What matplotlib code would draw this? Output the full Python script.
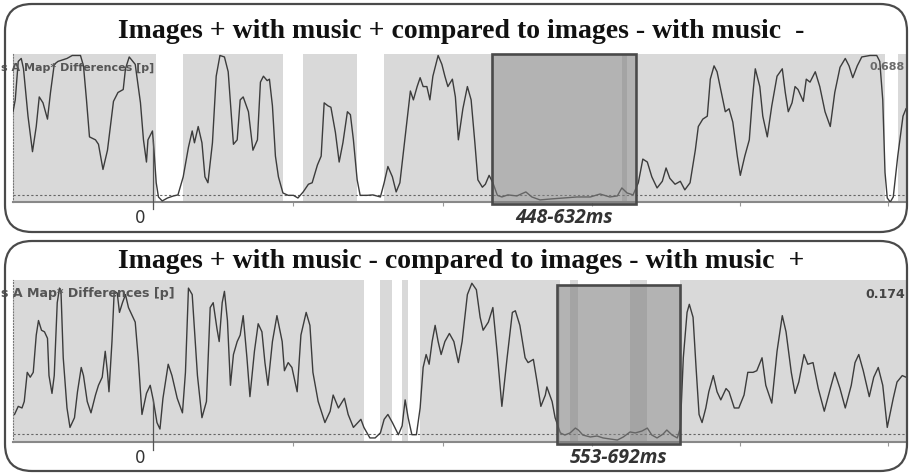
import numpy as np
import matplotlib.pyplot as plt
from matplotlib.patches import FancyBboxPatch, Rectangle

# Panel titles and annotation text
titles = ["Images + with music + compared to images - with music  -",
          "Images + with music - compared to images - with music  +"]
window_labels = ["448-632ms", "553-692ms"]
corner_values = ["0.688", "0.174"]
threshold = 0.05

# Time (ms) and p-value traces
top_ms = [-187, -184, -180, -176, -173, -167, -161, -156, -152, -147, -141, -137, -132, -127, -115,
          -108, -97, -93, -89, -85, -77, -73, -67, -61, -53, -47, -40, -37, -32, -24,
          -17, -13, -9, -7, -1, 1, 4, 7, 12, 19, 27, 33, 40, 47, 52,
          55, 60, 65, 69, 73, 79, 84, 89, 95, 100,
          107, 112, 116, 120, 127, 133, 139, 143, 147, 152, 155, 159, 163, 167, 173,
          180, 187, 193, 200, 207, 212, 219, 224, 228, 233, 237, 243, 248, 253, 259,
          263, 267, 272, 276, 285, 293, 303, 308, 313, 319, 324, 329, 336, 343, 347,
          352, 356, 360, 365, 369, 373, 380, 385, 389, 393, 399, 403,
          407, 413, 419, 424, 429, 433, 439, 443, 448, 453, 459, 465, 473, 485, 497,
          505, 516, 529, 547, 565, 583, 596, 609, 619, 625, 632, 640, 647, 653, 659,
          665, 672, 679, 684, 689, 696, 703,
          709, 716, 723, 727, 733, 739, 743, 748, 752, 759, 763, 768, 773, 779, 783,
          789, 795, 799, 803, 809, 813, 819, 825, 832, 839, 843, 847, 852, 856, 860,
          867, 871, 876, 883, 889, 896, 903, 909, 916, 923, 928, 933, 939, 945, 956,
          965, 969, 973, 976, 979, 983, 987, 993, 1000, 1004]
top_p = [0.61, 0.69, 0.95, 0.97, 0.90, 0.58, 0.34, 0.51, 0.71, 0.67, 0.56, 0.74, 0.93, 0.95, 0.97,
         0.99, 0.99, 0.92, 0.69, 0.44, 0.42, 0.39, 0.22, 0.35, 0.68, 0.74, 0.76, 0.90, 0.98, 0.93,
         0.67, 0.42, 0.27, 0.42, 0.48, 0.35, 0.13, 0.034, 0.007, 0.027, 0.041, 0.048, 0.17, 0.37, 0.48,
         0.40, 0.51, 0.40, 0.17, 0.13, 0.40, 0.85, 0.99, 0.98, 0.88,
         0.39, 0.42, 0.69, 0.71, 0.61, 0.35, 0.42, 0.81, 0.85, 0.82, 0.83, 0.65, 0.31, 0.17, 0.061,
         0.045, 0.045, 0.027, 0.068, 0.12, 0.13, 0.25, 0.31, 0.67, 0.65, 0.64, 0.47, 0.27, 0.40, 0.61,
         0.59, 0.42, 0.15, 0.045, 0.045, 0.048, 0.034, 0.13, 0.24, 0.17, 0.068, 0.13, 0.44, 0.75, 0.69,
         0.78, 0.84, 0.78, 0.78, 0.69, 0.85, 0.99, 0.93, 0.85, 0.78, 0.83, 0.71,
         0.42, 0.63, 0.78, 0.69, 0.40, 0.15, 0.10, 0.12, 0.18, 0.13, 0.045, 0.034, 0.048, 0.041, 0.068,
         0.034, 0.014, 0.020, 0.027, 0.034, 0.034, 0.054, 0.034, 0.041, 0.095, 0.061, 0.048, 0.13, 0.29, 0.27,
         0.17, 0.095, 0.14, 0.23, 0.16, 0.12, 0.14,
         0.082, 0.13, 0.35, 0.51, 0.56, 0.58, 0.83, 0.92, 0.88, 0.71, 0.61, 0.63, 0.54, 0.31, 0.18,
         0.31, 0.42, 0.69, 0.90, 0.78, 0.58, 0.44, 0.65, 0.85, 0.90, 0.74, 0.61, 0.67, 0.78, 0.76,
         0.68, 0.83, 0.81, 0.88, 0.78, 0.61, 0.51, 0.74, 0.91, 0.97, 0.92, 0.84, 0.92, 0.98, 0.99,
         0.99, 0.95, 0.69, 0.20, 0.027, 0.0, 0.034, 0.31, 0.58, 0.63]

bottom_ms = [-185, -180, -175, -172, -168, -164, -160, -156, -153, -149, -145, -141, -139, -135, -132,
             -128, -125, -123, -120, -115, -111, -105, -101, -96, -93, -88, -83, -77, -73, -68,
             -64, -61, -59, -55, -52, -48, -45, -41, -37, -33, -28, -24, -20, -15, -9,
             -4, 0, 5, 9, 13, 20, 25, 32, 39, 43, 47, 52, 59, 65, 71,
             76, 80, 85, 88, 92, 95, 99, 103,
             107, 112, 116, 120, 125, 129, 135, 140, 145, 149, 153, 159, 165, 172, 175,
             180, 185, 192, 197, 204, 209, 213, 220, 229, 236, 240, 247, 255, 260, 267,
             273, 277, 281, 289, 296, 303, 308, 313, 319, 327, 332, 336, 340, 345, 351,
             356, 360, 364, 368, 372, 376, 380, 384, 389, 395,
             401, 407, 412, 419, 425, 431, 436, 440, 447, 453, 459, 465, 472, 479, 483,
             489, 496, 500, 507, 512, 517, 523, 525, 532, 536, 543, 549, 556, 563, 567,
             573, 583, 592, 600, 609, 619, 627, 636, 643, 652, 659, 665, 672, 680, 685,
             692, 699, 703,
             707, 712, 715, 720, 724, 728, 732, 737, 741, 747, 752, 757, 764, 768, 775,
             781, 788, 793, 800, 805, 812, 817, 825, 832, 839, 844, 851, 856, 861, 868,
             873, 880, 887, 895, 903, 909, 916, 923, 931, 936, 941, 947, 955, 961, 967,
             973, 979, 987, 992, 999, 1004]
bottom_p = [0.17, 0.22, 0.21, 0.25, 0.43, 0.40, 0.43, 0.66, 0.75, 0.69, 0.68, 0.64, 0.41, 0.30, 0.41,
            0.86, 0.95, 0.93, 0.52, 0.21, 0.09, 0.15, 0.31, 0.46, 0.41, 0.25, 0.18, 0.29, 0.35, 0.40,
            0.56, 0.43, 0.31, 0.62, 0.93, 0.92, 0.80, 0.86, 0.91, 0.83, 0.78, 0.74, 0.52, 0.17, 0.30,
            0.35, 0.26, 0.12, 0.08, 0.27, 0.48, 0.41, 0.27, 0.18, 0.43, 0.95, 0.91, 0.41, 0.15, 0.25,
            0.83, 0.86, 0.70, 0.62, 0.86, 0.93, 0.75, 0.35,
            0.54, 0.62, 0.66, 0.78, 0.52, 0.28, 0.56, 0.73, 0.68, 0.49, 0.35, 0.62, 0.78, 0.62, 0.44,
            0.49, 0.46, 0.31, 0.66, 0.80, 0.72, 0.43, 0.25, 0.12, 0.19, 0.29, 0.21, 0.27, 0.17, 0.09,
            0.12, 0.14, 0.09, 0.025, 0.025, 0.056, 0.14, 0.17, 0.12, 0.045, 0.10, 0.26, 0.15, 0.045, 0.045,
            0.21, 0.46, 0.54, 0.48, 0.62, 0.72, 0.62, 0.54, 0.62, 0.67,
            0.62, 0.49, 0.62, 0.91, 0.98, 0.94, 0.77, 0.69, 0.74, 0.83, 0.54, 0.22, 0.52, 0.80, 0.81,
            0.72, 0.52, 0.49, 0.51, 0.37, 0.22, 0.29, 0.34, 0.25, 0.15, 0.056, 0.043, 0.056, 0.086, 0.074,
            0.043, 0.031, 0.037, 0.025, 0.019, 0.012, 0.031, 0.062, 0.056, 0.068, 0.086, 0.043, 0.025, 0.049, 0.074,
            0.043, 0.025, 0.086,
            0.52, 0.80, 0.85, 0.77, 0.46, 0.17, 0.12, 0.21, 0.31, 0.41, 0.31, 0.26, 0.33, 0.31, 0.21,
            0.21, 0.29, 0.43, 0.43, 0.44, 0.52, 0.35, 0.24, 0.56, 0.78, 0.68, 0.43, 0.30, 0.37, 0.54,
            0.48, 0.49, 0.33, 0.19, 0.33, 0.43, 0.33, 0.21, 0.35, 0.49, 0.54, 0.44, 0.28, 0.40, 0.46,
            0.35, 0.09, 0.27, 0.37, 0.41, 0.40]

# Highlighted windows as drawn on the screenshot (ms)
top_window = [452, 644]
bottom_window = [539, 703]
tick_ms = [0, 187, 387, 585, 783, 980]

W, H = 911, 475
fig = plt.figure(figsize=(W / 100, H / 100), dpi=100)

# rounded frames around each panel (pixel -> inch)
for (x0, y0, x1, y1) in [(5, 4, 907, 232), (5, 241, 907, 471)]:
    frame = FancyBboxPatch((x0 / 100, (H - y1) / 100), (x1 - x0) / 100, (y1 - y0) / 100,
                           boxstyle="round,pad=0,rounding_size=0.27",
                           transform=fig.dpi_scale_trans, facecolor='none',
                           edgecolor='#4a4a4a', linewidth=1.6, zorder=10)
    fig.add_artist(frame)

panels = [
    dict(ms=top_ms, p=top_p, win=top_window, box_y=(-0.014, 1.0), ytop=54, ybot=202,
         title_y=32, label_fs=8.0, corner_col='#6a6a6a', label_y=68, corner_y=67),
    dict(ms=bottom_ms, p=bottom_p, win=bottom_window, box_y=(-0.012, 0.97), ytop=280, ybot=442,
         title_y=262, label_fs=9.1, corner_col='#444444', label_y=294, corner_y=294),
]

for i, pan in enumerate(panels):
    t = np.array(pan['ms'])
    p = np.array(pan['p'])
    ax = fig.add_axes([13 / W, (H - pan['ybot']) / H, (906 - 13) / W, (pan['ybot'] - pan['ytop']) / H])
    ax.set_facecolor('white')
    ax.set_xlim(-187, 1004)
    ax.set_ylim(0, 1)
    xt = ax.get_xaxis_transform()

    # grey where not significant, white where p < threshold
    ax.fill_between(t, 0, 1, where=p >= threshold, color='#d9d9d9', lw=0, transform=xt, zorder=0)
    ax.axhline(threshold, color='#666666', lw=0.8, dashes=(2, 2), zorder=2)
    ax.plot(t, p, color='#3c3c3c', lw=1.0, zorder=3)

    # zero marker
    p0 = np.interp(0, t, p)
    ax.plot([0, 0], [-0.05, p0], color='#555555', lw=0.9, transform=xt, clip_on=False, zorder=3)
    ax.text(-17, -0.045, '0', transform=xt, ha='center', va='top', fontsize=12, color='#333333')

    # highlighted window
    b0, b1 = pan['box_y']
    ax.add_patch(Rectangle((pan['win'][0], b0), pan['win'][1] - pan['win'][0], b1 - b0,
                           transform=xt, facecolor='#818181', alpha=0.6, edgecolor='none',
                           clip_on=False, zorder=4))
    ax.add_patch(Rectangle((pan['win'][0], b0), pan['win'][1] - pan['win'][0], b1 - b0,
                           transform=xt, facecolor='none', edgecolor='#4a4a4a', lw=1.9,
                           clip_on=False, zorder=5))
    ax.text(np.mean(pan['win']), -0.04, window_labels[i], transform=xt, ha='center', va='top',
            fontsize=14, fontfamily=['Open Sans', 'DejaVu Sans'], fontweight='bold',
            fontstyle='italic', color='#333333')

    # axes styling
    for s in ['top', 'right']:
        ax.spines[s].set_visible(False)
    ax.spines['left'].set_linestyle(':')
    ax.spines['left'].set_color('#777777')
    ax.spines['bottom'].set_color('#888888')
    ax.spines['bottom'].set_linewidth(1.5)
    ax.set_yticks([])
    ax.set_xticks(tick_ms)
    ax.set_xticklabels([])
    ax.tick_params(axis='x', length=3, color='#999999')

    fig.text(1 / W, 1 - pan['label_y'] / H, 's A Map* Differences [p]',
             ha='left', va='center', fontsize=pan['label_fs'], fontweight='bold', color='#555555')
    fig.text(905 / W, 1 - pan['corner_y'] / H, corner_values[i], ha='right', va='center',
             fontsize=pan['label_fs'], fontweight='bold', color=pan['corner_col'])
    fig.text(461 / W, 1 - pan['title_y'] / H, titles[i], ha='center', va='center',
             fontsize=20, fontfamily='Liberation Serif', fontweight='bold', color='#111111')

fig.savefig('out.png', dpi=100)
